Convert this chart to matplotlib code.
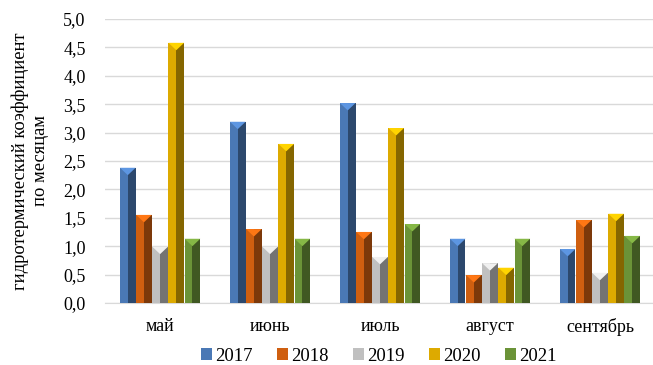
import numpy as np
import matplotlib.pyplot as plt
from matplotlib.colors import to_rgb

plt.rcParams['font.family'] = ['Liberation Serif', 'DejaVu Serif']

months = ["май", "июнь", "июль", "август", "сентябрь"]
years = ["2017", "2018", "2019", "2020", "2021"]
htc_2017 = [2.38, 3.19, 3.52, 1.13, 0.95]
htc_2018 = [1.55, 1.30, 1.25, 0.49, 1.46]
htc_2019 = [0.99, 0.99, 0.81, 0.70, 0.53]
htc_2020 = [4.58, 2.80, 3.08, 0.62, 1.57]
htc_2021 = [1.13, 1.13, 1.39, 1.13, 1.18]
series = [htc_2017, htc_2018, htc_2019, htc_2020, htc_2021]
colors = ["#4a78b5", "#cf5f10", "#c0c0c0", "#ddaa00", "#6b9338"]


def shade(c, f):
    r, g, b = to_rgb(c)
    return tuple(min(1.0, ch * f) for ch in (r, g, b))


fig = plt.figure(figsize=(6.53, 3.65), dpi=100)
ax = fig.add_axes([0.161, 0.17, 0.842, 0.778])

x = np.arange(len(months))
w = 0.142
step = 0.147
for i, (vals, col, yr) in enumerate(zip(series, colors, years)):
    pos = x + (i - 2) * step
    # lit left face and shaded right face of the bevelled bar
    ax.bar(pos - w / 4, vals, width=w / 2, color=col, zorder=3, label=yr,
           linewidth=0)
    ax.bar(pos + w / 4, vals, width=w / 2, color=shade(col, 0.6), zorder=3,
           linewidth=0)
    # small triangular cap on top
    for p, v in zip(pos, vals):
        ax.fill([p - w / 2, p + w / 2, p], [v, v, v - 0.13],
                color=shade(col, 1.25), zorder=4, linewidth=0)

ax.set_xlim(-0.5, 4.5)
ax.set_ylim(0, 5.0)
yt = np.arange(0, 5.01, 0.5)
ax.set_yticks(yt)
ax.set_yticklabels([f"{t:.1f}".replace('.', ',') for t in yt], fontsize=13)
ax.set_xticks(x)
ax.set_xticklabels(months, fontsize=13)
ax.tick_params(axis='y', length=0, pad=14)
ax.tick_params(axis='x', length=0, pad=11)
ax.grid(axis='y', color='#d9d9d9', linewidth=1, zorder=0)
for s in ['top', 'right', 'left']:
    ax.spines[s].set_visible(False)
ax.spines['bottom'].set_color('#d9d9d9')

ax.set_ylabel("гидротермический коэффициент\nпо месяцам", fontsize=13.3,
              linespacing=1.25, labelpad=10)

handles, labels = ax.get_legend_handles_labels()
fig.legend(handles, labels, loc='lower center', ncol=5, frameon=False,
           fontsize=13.5, bbox_to_anchor=(0.58, -0.045), handlelength=0.6,
           handleheight=0.6, handletextpad=0.15, columnspacing=1.3)

fig.savefig("out.png", dpi=100)
